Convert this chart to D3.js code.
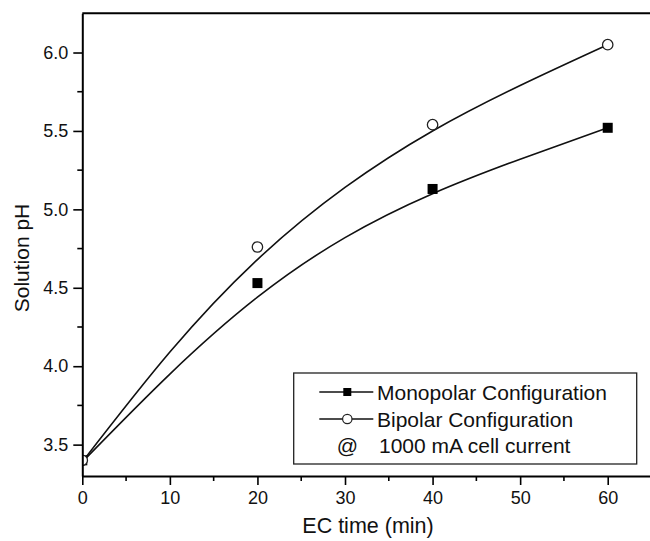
<!DOCTYPE html>
<html>
<head>
<meta charset="utf-8">
<script src="https://cdn.jsdelivr.net/npm/d3@7"></script>
<style>
  body { margin: 0; background: #fff; }
  svg text { font-family: "Liberation Sans", Arial, sans-serif; fill: #111; }
</style>
</head>
<body>
<svg width="650" height="541"></svg>
<script>
// measured points
var times = [0, 20, 40, 60];
var monopolar = [3.40, 4.53, 5.13, 5.52];
var bipolar = [3.40, 4.76, 5.54, 6.05];

// fitted curves
var fitTimes = [0, 10, 20, 30, 40, 50, 60];
var monoFit = [3.39, 3.95, 4.44, 4.82, 5.10, 5.32, 5.52];
var bipFit = [3.39, 4.09, 4.68, 5.14, 5.50, 5.79, 6.05];

var xTicks = [0, 10, 20, 30, 40, 50, 60];
var yTicks = [3.5, 4.0, 4.5, 5.0, 5.5, 6.0];

var legendLabels = ["Monopolar Configuration", "Bipolar Configuration", "1000 mA cell current"];

var svg = d3.select("svg");

var x = d3.scaleLinear().domain([0, 65]).range([82.3, 651.5]);
var y = d3.scaleLinear().domain([3.3, 6.25]).range([476, 13.3]);

svg.append("clipPath").attr("id", "plot")
  .append("rect")
  .attr("x", x(0)).attr("y", y(6.25))
  .attr("width", x(65) - x(0)).attr("height", y(3.3) - y(6.25));

var plot = svg.append("g").attr("clip-path", "url(#plot)");

var line = d3.line()
  .x(function(d) { return x(d[0]); })
  .y(function(d) { return y(d[1]); })
  .curve(d3.curveNatural);

[monoFit, bipFit].forEach(function(fit) {
  plot.append("path")
    .datum(fitTimes.map(function(t, i) { return [t, fit[i]]; }))
    .attr("d", line)
    .attr("fill", "none")
    .attr("stroke", "#111")
    .attr("stroke-width", 1.6);
});

plot.selectAll("rect.mono")
  .data(times.map(function(t, i) { return [t, monopolar[i]]; }))
  .enter().append("rect")
  .attr("class", "mono")
  .attr("x", function(d) { return x(d[0]) - 5; })
  .attr("y", function(d) { return y(d[1]) - 5; })
  .attr("width", 10).attr("height", 10)
  .attr("fill", "#000");

plot.selectAll("circle.bip")
  .data(times.map(function(t, i) { return [t, bipolar[i]]; }))
  .enter().append("circle")
  .attr("class", "bip")
  .attr("cx", function(d) { return x(d[0]); })
  .attr("cy", function(d) { return y(d[1]); })
  .attr("r", 5.2)
  .attr("fill", "#fff")
  .attr("stroke", "#222")
  .attr("stroke-width", 1.3);

// axes
var xAxis = d3.axisBottom(x).tickValues(xTicks).tickSize(9).tickPadding(6).tickSizeOuter(0)
  .tickFormat(d3.format("d"));
var gx = svg.append("g").attr("transform", "translate(0," + y(3.3) + ")").call(xAxis);
gx.selectAll(".tick text").attr("font-size", 18).attr("font-family", null);
gx.selectAll(".tick line").attr("stroke-width", 1.6);
gx.select(".domain").attr("stroke-width", 2);
gx.selectAll(".minor").data(d3.range(5, 65, 10)).enter().append("line")
  .attr("x1", function(d) { return x(d); }).attr("x2", function(d) { return x(d); })
  .attr("y1", 0).attr("y2", 5).attr("stroke", "#000").attr("stroke-width", 1.6);

var yAxis = d3.axisLeft(y).tickValues(yTicks).tickSize(9).tickPadding(5).tickSizeOuter(0)
  .tickFormat(d3.format(".1f"));
var gy = svg.append("g").attr("transform", "translate(" + x(0) + ",0)").call(yAxis);
gy.selectAll(".tick text").attr("font-size", 18).attr("font-family", null);
gy.selectAll(".tick line").attr("stroke-width", 1.6);
gy.select(".domain").attr("stroke-width", 2);
gy.selectAll(".minor").data([3.75, 4.25, 4.75, 5.25, 5.75]).enter().append("line")
  .attr("y1", function(d) { return y(d); }).attr("y2", function(d) { return y(d); })
  .attr("x1", 0).attr("x2", -5).attr("stroke", "#000").attr("stroke-width", 1.6);

// top border
svg.append("line")
  .attr("x1", x(0)).attr("x2", x(65))
  .attr("y1", y(6.25)).attr("y2", y(6.25))
  .attr("stroke", "#000").attr("stroke-width", 2);

// titles
svg.append("text")
  .attr("x", 368).attr("y", 533)
  .attr("text-anchor", "middle")
  .attr("font-size", 21.5)
  .text("EC time (min)");

svg.append("text")
  .attr("transform", "translate(29,258) rotate(-90)")
  .attr("text-anchor", "middle")
  .attr("font-size", 21)
  .text("Solution pH");

// legend
var lg = svg.append("g");
lg.append("rect")
  .attr("x", 293.7).attr("y", 373)
  .attr("width", 343).attr("height", 91)
  .attr("fill", "#fff").attr("stroke", "#222").attr("stroke-width", 1.3);

var rowY = [392, 419, 445];
lg.selectAll("line.key").data([0, 1]).enter().append("line")
  .attr("x1", 319.3).attr("x2", 373.3)
  .attr("y1", function(d) { return rowY[d]; }).attr("y2", function(d) { return rowY[d]; })
  .attr("stroke", "#111").attr("stroke-width", 1.5);
lg.append("rect")
  .attr("x", 343.3).attr("y", rowY[0] - 4).attr("width", 8).attr("height", 8)
  .attr("fill", "#000");
lg.append("circle")
  .attr("cx", 347.3).attr("cy", rowY[1]).attr("r", 4.7)
  .attr("fill", "#fff").attr("stroke", "#222").attr("stroke-width", 1.2);
lg.append("text")
  .attr("x", 347.3).attr("y", rowY[2] + 7.5)
  .attr("text-anchor", "middle")
  .attr("font-size", 21)
  .text("@");
lg.selectAll("text.lab").data(legendLabels).enter().append("text")
  .attr("class", "lab")
  .attr("x", function(d, i) { return i < 2 ? 377 : 379; })
  .attr("y", function(d, i) { return rowY[i] + 7.5; })
  .attr("font-size", 21)
  .text(function(d) { return d; });
</script>
</body>
</html>
